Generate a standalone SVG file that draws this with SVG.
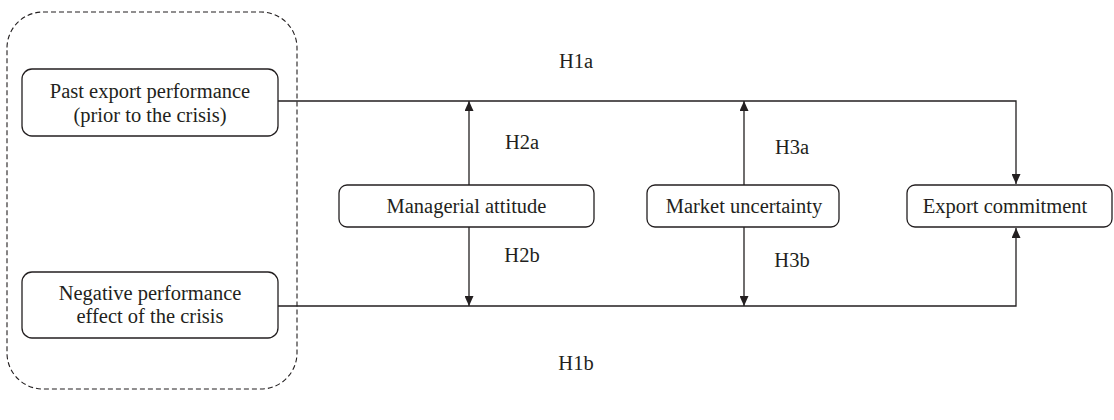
<svg xmlns="http://www.w3.org/2000/svg" width="1114" height="420" viewBox="0 0 1114 420">
  <style>
    .node { fill: #ffffff; stroke: #231f20; stroke-width: 1.3; }
    .lbl { font-family: "Liberation Serif", "Times New Roman", serif; font-size: 20.5px; fill: #231f20; text-anchor: middle; }
    .edge { fill: none; stroke: #231f20; stroke-width: 1.3; }
    .group { fill: none; stroke: #231f20; stroke-width: 1.1; stroke-dasharray: 5 3; }
  </style>
  <defs>
    <marker id="arrow" viewBox="0 0 10 10" refX="10" refY="5" markerWidth="10" markerHeight="9" markerUnits="userSpaceOnUse" orient="auto" preserveAspectRatio="none">
      <path d="M0,0 L10,5 L0,10 z" fill="#231f20"/>
    </marker>
  </defs>

  <rect width="1114" height="420" fill="#ffffff"/>

  <!-- dashed grouping of the two crisis-related predictors -->
  <rect id="predictor-group" class="group" x="7" y="12" width="290" height="377" rx="36" ry="36"/>

  <g id="connectors">
    <!-- H1a: past performance to export commitment -->
    <path class="edge" d="M278,101 H1016 V184" marker-end="url(#arrow)"/>
    <!-- H1b: negative effect to export commitment -->
    <path class="edge" d="M278,306 H1016 V228" marker-end="url(#arrow)"/>
    <!-- moderators -->
    <path class="edge" d="M469,185 V101" marker-end="url(#arrow)"/>
    <path class="edge" d="M469,227 V306" marker-end="url(#arrow)"/>
    <path class="edge" d="M744,185 V101" marker-end="url(#arrow)"/>
    <path class="edge" d="M744,227 V306" marker-end="url(#arrow)"/>
  </g>

  <g id="edge-labels">
    <text class="lbl" x="576" y="68">H1a</text>
    <text class="lbl" x="576" y="370">H1b</text>
    <text class="lbl" x="522" y="149">H2a</text>
    <text class="lbl" x="522" y="262">H2b</text>
    <text class="lbl" x="792" y="154">H3a</text>
    <text class="lbl" x="792" y="267">H3b</text>
  </g>

  <g id="past-performance">
    <rect class="node" x="22" y="69" width="256" height="67" rx="10"/>
    <text class="lbl" x="150" y="98">Past export performance</text>
    <text class="lbl" x="150" y="122">(prior to the crisis)</text>
  </g>

  <g id="negative-effect">
    <rect class="node" x="22" y="272" width="256" height="66" rx="10"/>
    <text class="lbl" x="150" y="300">Negative performance</text>
    <text class="lbl" x="150" y="323">effect of the crisis</text>
  </g>

  <g id="managerial-attitude">
    <rect class="node" x="339" y="185" width="255" height="42" rx="8"/>
    <text class="lbl" x="466.5" y="213">Managerial attitude</text>
  </g>

  <g id="market-uncertainty">
    <rect class="node" x="647" y="185" width="192" height="42" rx="8"/>
    <text class="lbl" x="744" y="213">Market uncertainty</text>
  </g>

  <g id="export-commitment">
    <rect class="node" x="907" y="185" width="205" height="42" rx="8"/>
    <text class="lbl" x="1005" y="213">Export commitment</text>
  </g>
</svg>
